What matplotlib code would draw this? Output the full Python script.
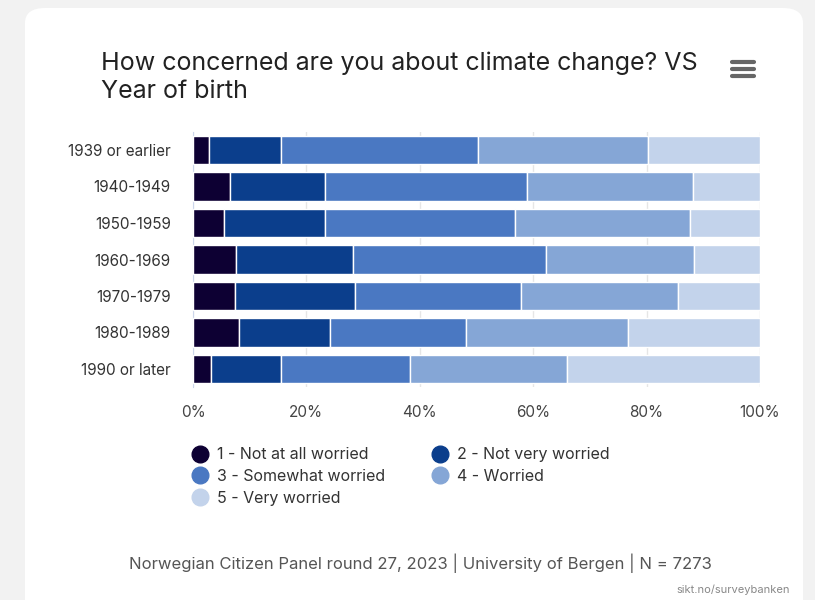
import numpy as np
import matplotlib.pyplot as plt
from matplotlib.patches import FancyBboxPatch
from matplotlib.lines import Line2D

# data (percent of respondents)
groups = ['1939 or earlier', '1940-1949', '1950-1959', '1960-1969',
          '1970-1979', '1980-1989', '1990 or later']
series = ['1 - Not at all worried', '2 - Not very worried',
          '3 - Somewhat worried', '4 - Worried', '5 - Very worried']
not_at_all = [2.8, 6.6, 5.5, 7.6, 7.4, 8.2, 3.2]
not_very = [12.7, 16.7, 17.8, 20.7, 21.2, 15.9, 12.3]
somewhat = [34.8, 35.6, 33.5, 34.0, 29.2, 24.0, 22.7]
worried = [29.9, 29.3, 30.9, 26.1, 27.8, 28.6, 27.7]
very = [19.8, 11.8, 12.3, 11.6, 14.4, 23.3, 34.1]
colors = ['#0d0033', '#0b3e8c', '#4a78c2', '#85a6d6', '#c3d3eb']

plt.rcParams['font.family'] = ['Inter', 'DejaVu Sans']

fig = plt.figure(figsize=(8.15, 6), dpi=100)
fig.patch.set_facecolor('#f2f2f2')

# white card behind everything
card = FancyBboxPatch((25/815, -0.05), (803-25)/815, (600-8)/600 + 0.05,
                      boxstyle='round,pad=0,rounding_size=0.025',
                      transform=fig.transFigure, facecolor='white',
                      edgecolor='none', zorder=-5)
fig.patches.append(card)

ax = fig.add_axes([193/815, 1-387.25/600, (760-193)/815, (387.25-131.75)/600])
ax.set_facecolor('none')

y = np.arange(len(groups))
left = np.zeros(len(groups))
for vals, name, col in zip([not_at_all, not_very, somewhat, worried, very],
                           series, colors):
    vals = np.array(vals)
    ax.barh(y, vals, left=left, height=0.77, color=col, edgecolor='white',
            linewidth=1, label=name, zorder=3)
    left += vals

ax.set_xlim(0, 100)
ax.set_ylim(len(groups) - 0.5, -0.5)
ax.set_yticks(y)
ax.set_yticklabels(groups, fontsize=11, color='#333333')
ax.set_xticks(np.arange(0, 101, 20))
ax.set_xticklabels([f'{v}%' for v in range(0, 101, 20)], fontsize=11,
                   color='#444444')
ax.tick_params(length=0, pad=13)
ax.tick_params(axis='y', pad=16)
ax.grid(axis='x', color='#e6e6e6', linewidth=1, zorder=0)
for s in ['top', 'right', 'bottom']:
    ax.spines[s].set_visible(False)
ax.spines['left'].set_color('#ccd6eb')

# title
fig.text(101/815, 1-63/600, 'How concerned are you about climate change? VS',
         fontsize=18, color='#222222', va='center', ha='left')
fig.text(101/815, 1-92/600, 'Year of birth', fontsize=18, color='#222222',
         va='center', ha='left')

# menu icon
for yy in [62, 69, 76]:
    fig.add_artist(Line2D([732/815, 754/815], [1-yy/600, 1-yy/600],
                          color='#666666', linewidth=3,
                          solid_capstyle='round'))

# legend, row-major order like the reference
order = [0, 2, 4, 1, 3]
handles = [Line2D([0], [0], marker='o', color='none', markerfacecolor=colors[i],
                  markeredgecolor=colors[i], markersize=12) for i in order]
leg = fig.legend(handles, [series[i] for i in order], loc='upper left', ncol=2,
                 bbox_to_anchor=(174/815, 1-433/600), frameon=False,
                 fontsize=11.5, handletextpad=0.3, columnspacing=2.7,
                 labelspacing=0.42, handlelength=1.5)
for t in leg.get_texts():
    t.set_color('#333333')

# footer
fig.text(420/815, 1-563/600,
         'Norwegian Citizen Panel round 27, 2023 | University of Bergen | N = 7273',
         fontsize=12, color='#555555', ha='center', va='center')
fig.text(790/815, 1-590/600, 'sikt.no/surveybanken', fontsize=8,
         color='#888888', ha='right', va='center')

fig.savefig('out.png', dpi=100, facecolor=fig.get_facecolor())
